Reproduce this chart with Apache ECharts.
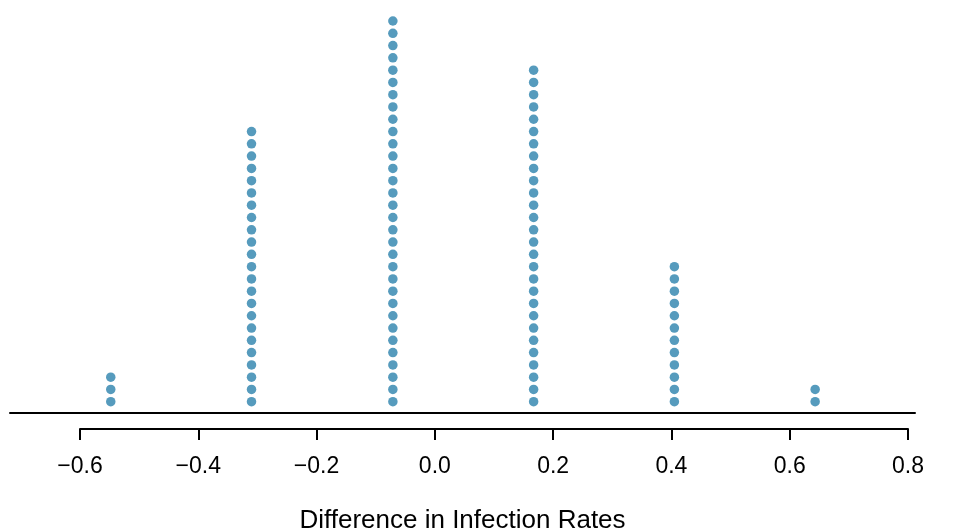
<!DOCTYPE html>
<html>
<head>
<meta charset="utf-8">
<script src="https://cdn.jsdelivr.net/npm/echarts@6/dist/echarts.min.js"></script>
<style>html,body{margin:0;padding:0;background:#fff}#c{width:964px;height:530px}</style>
</head>
<body>
<div id="c"></div>
<script>
// Distinct simulated differences and how many simulations gave each
var diffValues = [-0.548, -0.310, -0.071, 0.167, 0.405, 0.643];
var diffCounts = [3, 23, 32, 28, 12, 2];
var tickLabels = ['-0.6', '-0.4', '-0.2', '0.0', '0.2', '0.4', '0.6', '0.8'];
var axisTitle = 'Difference in Infection Rates';

var points = [];
diffValues.forEach(function (v, i) {
  for (var k = 1; k <= diffCounts[i]; k++) points.push([v, k]);
});

var font = 'Liberation Sans, Arial, sans-serif';
var chart = echarts.init(document.getElementById('c'), null, {renderer: 'canvas'});
chart.setOption({
  animation: false,
  backgroundColor: '#ffffff',
  grid: [
    {left: 80, right: 56, top: 21, bottom: 116, containLabel: false, outerBoundsMode: 'none'},
    {left: 10, right: 49, top: 21, bottom: 117, containLabel: false, outerBoundsMode: 'none'},
    {left: 80, right: 56, top: 21, bottom: 101, containLabel: false, outerBoundsMode: 'none'}
  ],
  xAxis: [
    {
      gridIndex: 0, type: 'value', min: -0.6, max: 0.8, interval: 0.2, show: false
    },
    {
      gridIndex: 1, type: 'value', min: 0, max: 1,
      position: 'bottom',
      axisLine: {show: true, lineStyle: {color: '#000', width: 2}},
      axisTick: {show: false}, axisLabel: {show: false}, splitLine: {show: false},
      name: axisTitle, nameLocation: 'middle', nameGap: 95,
      nameTextStyle: {color: '#000', fontSize: 26, fontFamily: font}
    },
    {
      gridIndex: 2, type: 'value', min: -0.6, max: 0.8, interval: 0.2,
      position: 'bottom',
      axisLine: {show: true, lineStyle: {color: '#000', width: 2}},
      axisTick: {show: true, length: 11, lineStyle: {color: '#000', width: 2}},
      splitLine: {show: false},
      axisLabel: {
        margin: 26, color: '#000', fontSize: 23, fontFamily: font,
        formatter: function (v) {
          var idx = Math.round((v + 0.6) / 0.2);
          return (tickLabels[idx] || '').replace('-', '\u2212');
        }
      }
    }
  ],
  yAxis: [
    {gridIndex: 0, type: 'value', min: 0, max: 32, show: false},
    {gridIndex: 1, type: 'value', min: 0, max: 1, show: false},
    {gridIndex: 2, type: 'value', min: 0, max: 1, show: false}
  ],
  series: [{
    type: 'scatter', xAxisIndex: 0, yAxisIndex: 0,
    data: points, symbol: 'circle', symbolSize: 9.5, clip: false,
    itemStyle: {color: '#569BBD', opacity: 1},
    emphasis: {disabled: true}
  }]
});
</script>
</body>
</html>
